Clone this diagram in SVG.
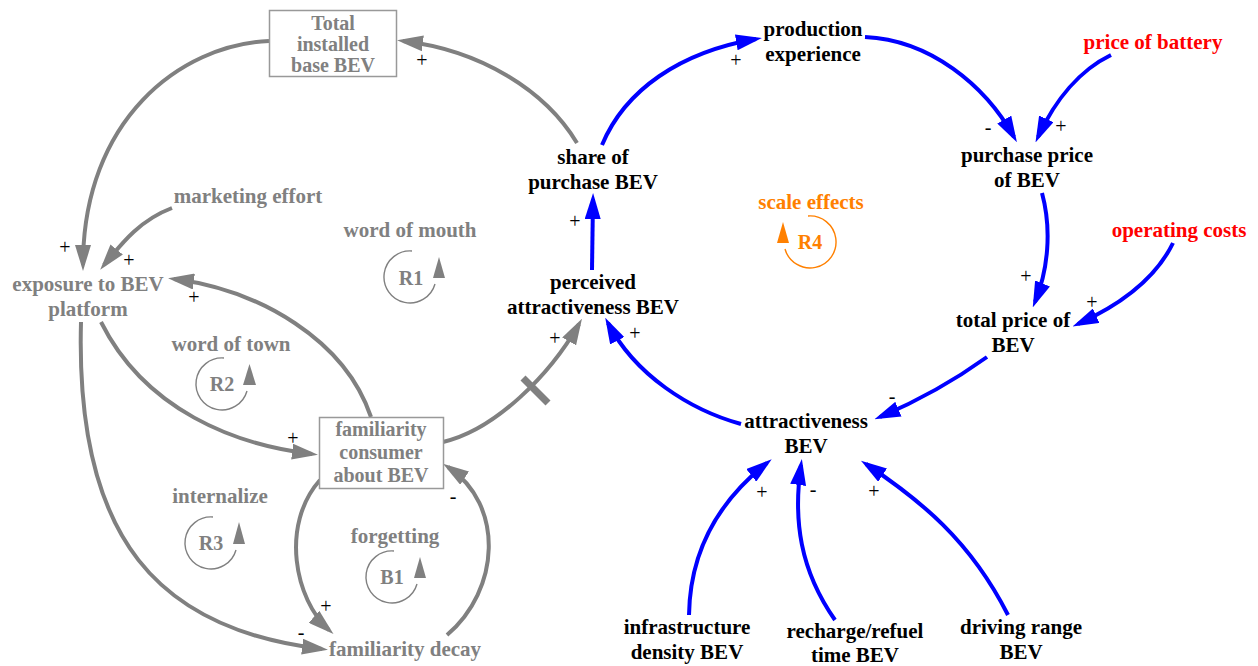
<svg xmlns="http://www.w3.org/2000/svg" width="1258" height="666" viewBox="0 0 1258 666" font-family="'Liberation Serif', Tinos, 'DejaVu Serif', serif">
  <style>
    text, tspan { font-family: 'Liberation Serif', Tinos, 'DejaVu Serif', serif; }
    .n { font-size: 21px; font-weight: bold; text-anchor: middle; }
    .nb { font-size: 20px; font-weight: bold; text-anchor: middle; }
    .k { fill: #000000; }
    .g { fill: #808080; }
    .r { fill: #ff0000; }
    .o { fill: #ff8000; }
    .box { fill: #ffffff; stroke: #999999; stroke-width: 1.5; }
    .lg { fill: none; stroke: #808080; stroke-width: 4; }
    .lb { fill: none; stroke: #0000ff; stroke-width: 4; }
    .pol { font-size: 20px; fill: #000000; text-anchor: middle; }
    .loopg { fill: none; stroke: #808080; stroke-width: 1.4; }
    .loopo { fill: none; stroke: #ff8000; stroke-width: 1.4; }
    .lt { font-size: 20px; font-weight: bold; text-anchor: middle; }
  </style>
  <defs>
    <marker id="ag" viewBox="0 0 26 16" refX="20" refY="8" markerWidth="26" markerHeight="16" markerUnits="userSpaceOnUse" orient="auto">
      <path d="M0,0 L26,8 L0,16 z" fill="#808080"/>
    </marker>
    <marker id="ab" viewBox="0 0 26 16" refX="20" refY="8" markerWidth="26" markerHeight="16" markerUnits="userSpaceOnUse" orient="auto">
      <path d="M0,0 L26,8 L0,16 z" fill="#0000ff"/>
    </marker>
  </defs>

  <rect width="1258" height="666" fill="#ffffff"/>

  <!-- causal links -->
  <g id="connectors">
    <path class="lg" marker-end="url(#ag)" d="M577,143 C545,90 480,50 403,41"/>
    <path class="lg" marker-end="url(#ag)" d="M269,41 C180,45 83,120 83,265"/>
    <path class="lg" marker-end="url(#ag)" d="M172,208 C140,220 122,243 104,265"/>
    <path class="lg" marker-end="url(#ag)" d="M371,417 C345,340 260,290 174,279"/>
    <path class="lg" marker-end="url(#ag)" d="M101,322 C145,410 235,445 312,454"/>
    <path class="lg" marker-end="url(#ag)" d="M81,322 C75,540 160,630 322,649"/>
    <path class="lg" marker-end="url(#ag)" d="M320,480 C280,525 295,600 329,630"/>
    <path class="lg" marker-end="url(#ag)" d="M447,635 C500,590 505,505 448,467"/>
    <path class="lg" marker-end="url(#ag)" d="M443,442 C495,430 550,375 579,324"/>
    <!-- delay mark -->
    <line x1="523" y1="378" x2="548" y2="403" stroke="#808080" stroke-width="7"/>

    <path class="lb" marker-end="url(#ab)" d="M741,424 C690,410 635,375 608,323"/>
    <path class="lb" marker-end="url(#ab)" d="M592,270 L593,199"/>
    <path class="lb" marker-end="url(#ab)" d="M602,145 C625,90 680,52 756,39"/>
    <path class="lb" marker-end="url(#ab)" d="M865,37 C930,40 985,85 1014,137"/>
    <path class="lb" marker-end="url(#ab)" d="M1111,55 C1080,70 1055,100 1038,137"/>
    <path class="lb" marker-end="url(#ab)" d="M1042,193 C1052,230 1048,270 1035,302"/>
    <path class="lb" marker-end="url(#ab)" d="M1173,243 C1155,280 1120,305 1078,324"/>
    <path class="lb" marker-end="url(#ab)" d="M987,357 C955,380 920,400 880,417"/>
    <path class="lb" marker-end="url(#ab)" d="M689,615 C690,550 720,500 767,463"/>
    <path class="lb" marker-end="url(#ab)" d="M835,620 C800,570 793,520 801,465"/>
    <path class="lb" marker-end="url(#ab)" d="M1008,615 C970,540 920,500 866,464"/>

    <!-- polarities -->
    <text class="pol" x="422" y="67">+</text>
    <text class="pol" x="65" y="254">+</text>
    <text class="pol" x="129" y="267">+</text>
    <text class="pol" x="194" y="304">+</text>
    <text class="pol" x="293" y="445">+</text>
    <text class="pol" x="301" y="639">-</text>
    <text class="pol" x="326" y="613">+</text>
    <text class="pol" x="453" y="503">-</text>
    <text class="pol" x="555" y="345">+</text>
    <text class="pol" x="635" y="340">+</text>
    <text class="pol" x="575" y="228">+</text>
    <text class="pol" x="736" y="67">+</text>
    <text class="pol" x="988" y="134">-</text>
    <text class="pol" x="1061" y="133">+</text>
    <text class="pol" x="1026" y="283">+</text>
    <text class="pol" x="1092" y="309">+</text>
    <text class="pol" x="892" y="403">-</text>
    <text class="pol" x="762" y="499">+</text>
    <text class="pol" x="813" y="496">-</text>
    <text class="pol" x="874" y="498">+</text>
  </g>

  <!-- stocks and variables -->
  <g id="total-installed-base">
    <rect class="box" x="269.5" y="10.5" width="127" height="66"/>
    <text class="nb g"><tspan x="333" y="30">Total</tspan><tspan x="333" y="51">installed</tspan><tspan x="333" y="72">base BEV</tspan></text>
  </g>
  <g id="familiarity-consumer">
    <rect class="box" x="319.5" y="417.5" width="124" height="71"/>
    <text class="nb g"><tspan x="381" y="436">familiarity</tspan><tspan x="381" y="459">consumer</tspan><tspan x="381" y="482">about BEV</tspan></text>
  </g>
  <g id="marketing-effort"><text class="n g" x="248" y="203">marketing effort</text></g>
  <g id="exposure"><text class="n g"><tspan x="88" y="291">exposure to BEV</tspan><tspan x="88" y="316">platform</tspan></text></g>
  <g id="familiarity-decay"><text class="n g" x="405" y="656">familiarity decay</text></g>

  <g id="share-of-purchase"><text class="n k"><tspan x="593" y="164">share of</tspan><tspan x="593" y="189">purchase BEV</tspan></text></g>
  <g id="perceived-attractiveness"><text class="n k"><tspan x="593" y="289">perceived</tspan><tspan x="593" y="314">attractiveness BEV</tspan></text></g>
  <g id="production-experience"><text class="n k"><tspan x="813" y="36">production</tspan><tspan x="813" y="61">experience</tspan></text></g>
  <g id="price-of-battery"><text class="n r" x="1153" y="49">price of battery</text></g>
  <g id="purchase-price"><text class="n k"><tspan x="1027" y="162">purchase price</tspan><tspan x="1027" y="187">of BEV</tspan></text></g>
  <g id="operating-costs"><text class="n r" x="1179" y="237">operating costs</text></g>
  <g id="total-price"><text class="n k"><tspan x="1013" y="327">total price of</tspan><tspan x="1013" y="352">BEV</tspan></text></g>
  <g id="attractiveness"><text class="n k"><tspan x="806" y="428">attractiveness</tspan><tspan x="806" y="453">BEV</tspan></text></g>
  <g id="infrastructure"><text class="n k"><tspan x="687" y="634">infrastructure</tspan><tspan x="687" y="659">density BEV</tspan></text></g>
  <g id="recharge-time"><text class="n k"><tspan x="855" y="638">recharge/refuel</tspan><tspan x="855" y="662">time BEV</tspan></text></g>
  <g id="driving-range"><text class="n k"><tspan x="1021" y="634">driving range</tspan><tspan x="1021" y="659">BEV</tspan></text></g>

  <!-- loop identifiers -->
  <g id="loop-r1">
    <text class="n g" x="410" y="237">word of mouth</text>
    <path class="loopg" d="M412,251 A26,26 0 1 0 435,284"/>
    <path d="M433,278 L445,278 L439,257 z" fill="#808080"/>
    <text class="lt g" x="411" y="285">R1</text>
  </g>
  <g id="loop-r2">
    <text class="n g" x="231" y="351">word of town</text>
    <path class="loopg" d="M224,358 A26,26 0 1 0 247,391"/>
    <path d="M243,385 L256,385 L249.5,364 z" fill="#808080"/>
    <text class="lt g" x="222" y="391">R2</text>
  </g>
  <g id="loop-r3">
    <text class="n g" x="220" y="503">internalize</text>
    <path class="loopg" d="M213,517 A26,26 0 1 0 236,550"/>
    <path d="M233,544 L245,544 L239,522 z" fill="#808080"/>
    <text class="lt g" x="211" y="550">R3</text>
  </g>
  <g id="loop-b1">
    <text class="n g" x="395" y="543">forgetting</text>
    <path class="loopg" d="M394,551 A26,26 0 1 0 417,584"/>
    <path d="M414,578 L426,578 L420,557 z" fill="#808080"/>
    <text class="lt g" x="392" y="584">B1</text>
  </g>
  <g id="loop-r4">
    <text class="n o" x="811" y="209">scale effects</text>
    <path class="loopo" d="M808,216 A26,26 0 1 1 785,249"/>
    <path d="M789,243 L777,243 L783,222 z" fill="#ff8000"/>
    <text class="lt o" x="810" y="249">R4</text>
  </g>
</svg>
